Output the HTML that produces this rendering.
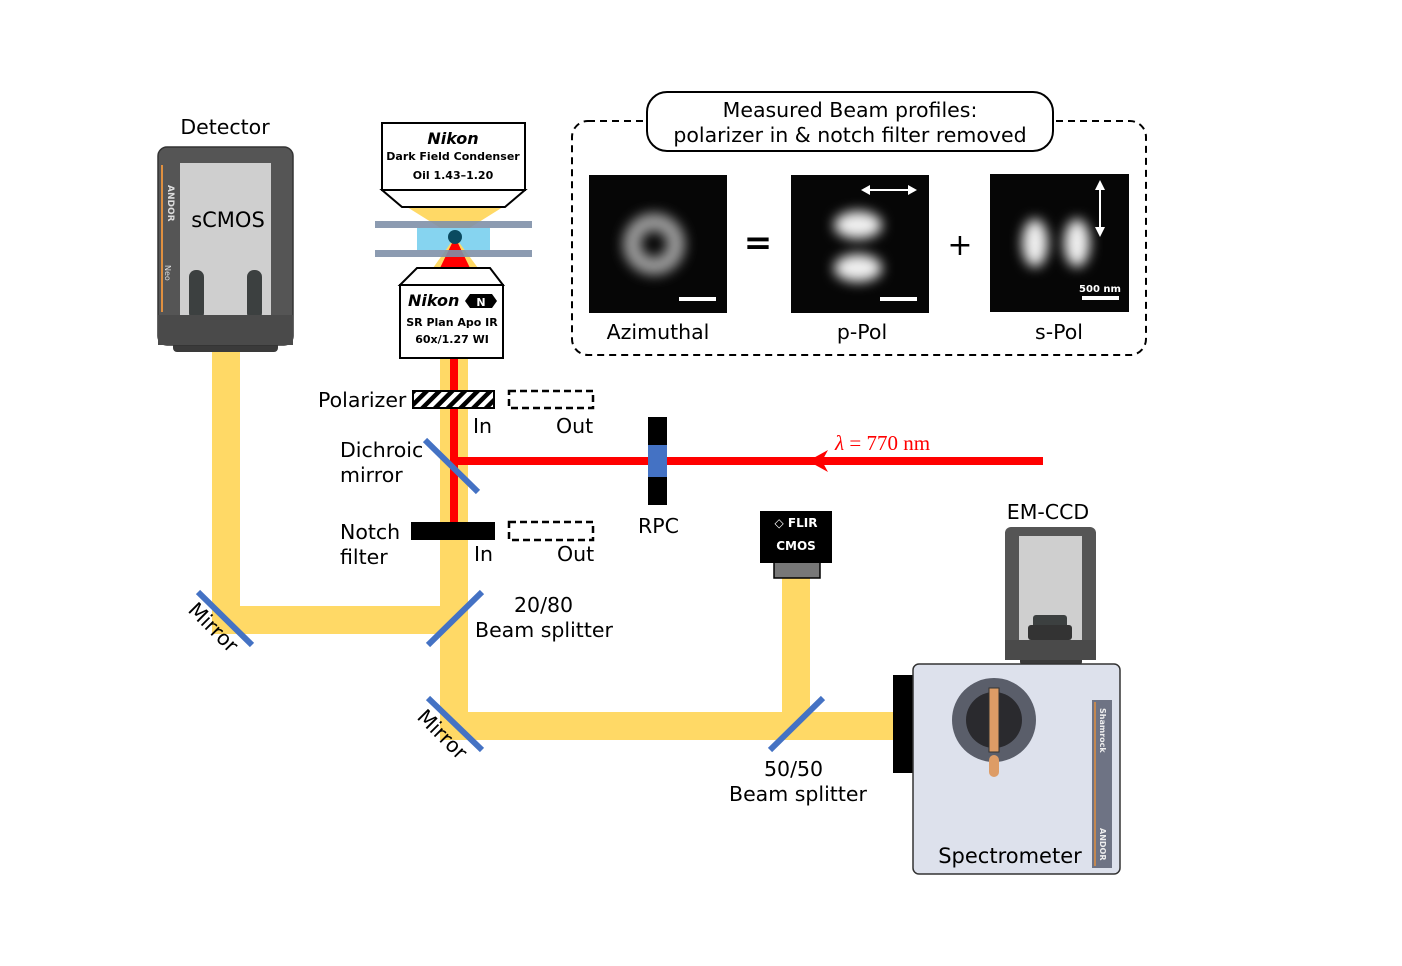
<!DOCTYPE html>
<html><head><meta charset="utf-8"><style>
html,body{margin:0;padding:0;background:#fff;}
svg{display:block;font-family:"DejaVu Sans","Liberation Sans",sans-serif;}
</style></head><body>
<svg width="1402" height="966" viewBox="0 0 1402 966" xmlns="http://www.w3.org/2000/svg">
<defs>
<pattern id="hatch" width="9" height="9" patternUnits="userSpaceOnUse" patternTransform="rotate(45)">
<rect width="9" height="9" fill="#fff"/><rect width="4.5" height="9" fill="#000"/></pattern>
<filter id="bl" x="-50%" y="-50%" width="200%" height="200%"><feGaussianBlur stdDeviation="6"/></filter>
</defs>
<g fill="#FFD966">
<rect x="212" y="350" width="28" height="284"/>
<rect x="212" y="606" width="256" height="28"/>
<rect x="440" y="355" width="28" height="385"/>
<rect x="440" y="712" width="455" height="28"/>
<rect x="782" y="578" width="28" height="150"/>
</g>
<rect x="450" y="262" width="8" height="260" fill="#f00"/>
<rect x="455" y="457" width="588" height="8" fill="#f00"/>
<polygon points="808,461 828,450 822,461 828,472" fill="#f00"/>
<text x="835" y="450" font-family="Liberation Serif,serif" font-size="21" fill="#f00"><tspan font-style="italic">λ</tspan> = 770 nm</text>
<g stroke="#4472C4" stroke-width="6">
<line x1="198" y1="592" x2="252" y2="645"/>
<line x1="428" y1="645" x2="482" y2="592"/>
<line x1="428" y1="698" x2="482" y2="750"/>
<line x1="770" y1="750" x2="823" y2="698"/>
<line x1="425" y1="440" x2="478" y2="492"/>
</g>
<rect x="413" y="391" width="81" height="17" fill="url(#hatch)" stroke="#000" stroke-width="2"/>
<rect x="509" y="391" width="84" height="17" fill="none" stroke="#000" stroke-width="2.5" stroke-dasharray="7,4"/>
<rect x="411" y="522" width="84" height="18" fill="#000"/>
<rect x="509" y="522" width="84" height="18" fill="none" stroke="#000" stroke-width="2.5" stroke-dasharray="7,4"/>
<rect x="648" y="417" width="19" height="88" fill="#000"/>
<rect x="648" y="445" width="19" height="32" fill="#4472C4"/>
<polygon points="407,207 503,207 455,237" fill="#FFD966"/>
<rect x="417" y="228" width="73" height="22" fill="#86d4f0"/>
<polygon points="433,268 478,268 455,237" fill="#FFD966"/>
<polygon points="440,268 470,268 455,237" fill="#f00"/>
<rect x="375" y="221" width="157" height="7" fill="#8090a8" opacity="0.9"/>
<rect x="375" y="250" width="157" height="7" fill="#8090a8" opacity="0.9"/>
<circle cx="455" cy="237" r="7" fill="#0a4a60"/>
<polygon points="382,190 525,190 505,207 402,207" fill="#fff" stroke="#000" stroke-width="2"/>
<rect x="382" y="123" width="143" height="67" fill="#fff" stroke="#000" stroke-width="2"/>
<text x="453" y="144" text-anchor="middle" font-size="16" font-weight="bold" font-style="italic">Nikon</text>
<text x="453" y="160" text-anchor="middle" font-size="11" font-weight="bold">Dark Field Condenser</text>
<text x="453" y="179" text-anchor="middle" font-size="11" font-weight="bold">Oil 1.43–1.20</text>
<polygon points="417,268 490,268 503,285 400,285" fill="#fff" stroke="#000" stroke-width="2"/>
<rect x="400" y="285" width="103" height="73" fill="#fff" stroke="#000" stroke-width="2"/>
<text x="408" y="306" font-size="16" font-weight="bold" font-style="italic">Nikon</text>
<polygon points="470,294 492,294 497,301 492,308 470,308 465,301" fill="#000"/>
<text x="481" y="306" text-anchor="middle" font-size="11" font-weight="bold" fill="#fff">N</text>
<text x="452" y="326" text-anchor="middle" font-size="11" font-weight="bold">SR Plan Apo IR</text>
<text x="452" y="343" text-anchor="middle" font-size="11" font-weight="bold">60x/1.27 WI</text>
<rect x="173" y="335" width="105" height="17" rx="4" fill="#3a3a3a"/>
<rect x="158" y="147" width="135" height="198" rx="9" fill="#555" stroke="#333" stroke-width="1.5"/>
<rect x="180" y="163" width="91" height="152" fill="#cfcfcf"/>
<line x1="162" y1="165" x2="162" y2="312" stroke="#e09040" stroke-width="2"/>
<rect x="189" y="270" width="15" height="50" rx="7" fill="#3c4040"/>
<rect x="247" y="270" width="15" height="50" rx="7" fill="#3c4040"/>
<rect x="158" y="315" width="135" height="30" fill="#4a4a4a"/>
<text transform="translate(168,185) rotate(90)" font-size="9" font-weight="bold" fill="#ddd">ANDOR</text>
<text transform="translate(165,265) rotate(90)" font-size="8" fill="#ddd">Neo</text>
<text x="228" y="227" text-anchor="middle" font-size="21">sCMOS</text>
<text x="225" y="134" text-anchor="middle" font-size="20.5">Detector</text>
<rect x="774" y="562" width="46" height="16" fill="#777" stroke="#000" stroke-width="1.5"/>
<rect x="760" y="511" width="72" height="52" fill="#000"/>
<text x="796" y="527" text-anchor="middle" font-size="12" font-weight="bold" fill="#fff">◇ FLIR</text>
<text x="796" y="550" text-anchor="middle" font-size="12" font-weight="bold" fill="#fff">CMOS</text>
<rect x="1020" y="655" width="62" height="10" rx="3" fill="#3a3a3a"/>
<rect x="1005" y="527" width="91" height="133" rx="6" fill="#555"/>
<rect x="1019" y="536" width="63" height="104" fill="#cfcfcf"/>
<rect x="1033" y="615" width="34" height="25" rx="3" fill="#3c4040"/>
<rect x="1028" y="625" width="44" height="15" rx="3" fill="#333"/>
<rect x="1005" y="640" width="91" height="20" fill="#4a4a4a"/>
<text x="1048" y="519" text-anchor="middle" font-size="20.5">EM-CCD</text>
<rect x="893" y="675" width="22" height="98" fill="#000"/>
<rect x="913" y="664" width="207" height="210" rx="6" fill="#dde1ec" stroke="#333" stroke-width="1.5"/>
<circle cx="994" cy="720" r="42" fill="#5a5e6a"/>
<circle cx="994" cy="720" r="28" fill="#2a2a2e"/>
<rect x="989" y="688" width="10" height="64" fill="#dd9c66" stroke="#333" stroke-width="1"/>
<rect x="989" y="755" width="10" height="22" rx="5" fill="#dd9c66"/>
<rect x="1092" y="700" width="20" height="168" fill="#6e7384"/>
<line x1="1095" y1="702" x2="1095" y2="866" stroke="#e09040" stroke-width="1.5"/>
<text transform="translate(1100,708) rotate(90)" font-size="8" font-weight="bold" fill="#eee">Shamrock</text>
<text transform="translate(1100,828) rotate(90)" font-size="8" font-weight="bold" fill="#eee">ANDOR</text>
<text x="1010" y="863" text-anchor="middle" font-size="21">Spectrometer</text>
<g font-size="20.5">
<text x="318" y="407">Polarizer</text>
<text x="473" y="433">In</text>
<text x="556" y="433">Out</text>
<text x="340" y="457">Dichroic</text>
<text x="340" y="482">mirror</text>
<text x="340" y="539">Notch</text>
<text x="340" y="564">filter</text>
<text x="474" y="561">In</text>
<text x="557" y="561">Out</text>
<text x="638" y="533">RPC</text>
<text x="514" y="612">20/80</text>
<text x="475" y="637">Beam splitter</text>
<text x="764" y="776">50/50</text>
<text x="729" y="801">Beam splitter</text>
<text transform="translate(187,611) rotate(45)">Mirror</text>
<text transform="translate(416,718) rotate(45)">Mirror</text>
</g>
<rect x="572" y="121" width="574" height="234" rx="16" fill="none" stroke="#000" stroke-width="2" stroke-dasharray="7,5"/>
<rect x="647" y="92" width="406" height="59" rx="20" fill="#fff" stroke="#000" stroke-width="2"/>
<text x="850" y="117" text-anchor="middle" font-size="20.5">Measured Beam profiles:</text>
<text x="850" y="142" text-anchor="middle" font-size="20.5">polarizer in &amp; notch filter removed</text>
<rect x="589" y="175" width="138" height="138" fill="#060606"/>
<circle cx="654" cy="244" r="22" fill="none" stroke="#9a9a9a" stroke-width="18" filter="url(#bl)"/>
<rect x="679" y="297" width="37" height="4" fill="#fff"/>
<rect x="791" y="175" width="138" height="138" fill="#060606"/>
<ellipse cx="858" cy="225" rx="24" ry="14" fill="#eee" filter="url(#bl)"/>
<ellipse cx="858" cy="268" rx="24" ry="14" fill="#eee" filter="url(#bl)"/>
<rect x="880" y="297" width="37" height="4" fill="#fff"/>
<line x1="868" y1="190" x2="910" y2="190" stroke="#fff" stroke-width="2"/>
<polygon points="861,190 870,185 870,195" fill="#fff"/><polygon points="917,190 908,185 908,195" fill="#fff"/>
<rect x="990" y="174" width="139" height="138" fill="#060606"/>
<ellipse cx="1035" cy="243" rx="13" ry="24" fill="#eee" filter="url(#bl)"/>
<ellipse cx="1077" cy="243" rx="13" ry="24" fill="#eee" filter="url(#bl)"/>
<line x1="1100" y1="187" x2="1100" y2="230" stroke="#fff" stroke-width="2"/>
<polygon points="1100,180 1095,190 1105,190" fill="#fff"/><polygon points="1100,237 1095,227 1105,227" fill="#fff"/>
<text x="1100" y="292" text-anchor="middle" font-size="10" font-weight="bold" fill="#fff">500 nm</text>
<rect x="1082" y="296" width="37" height="4" fill="#fff"/>
<text x="758" y="254" text-anchor="middle" font-size="34" font-weight="bold">=</text>
<text x="960" y="255" text-anchor="middle" font-size="30">+</text>
<text x="658" y="339" text-anchor="middle" font-size="20.5">Azimuthal</text>
<text x="862" y="339" text-anchor="middle" font-size="20.5">p-Pol</text>
<text x="1059" y="339" text-anchor="middle" font-size="20.5">s-Pol</text>
</svg>
</body></html>
